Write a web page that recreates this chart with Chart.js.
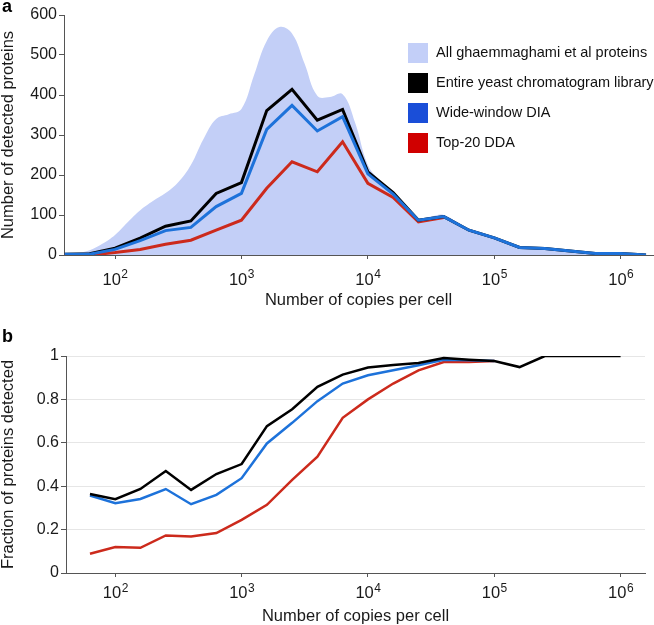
<!DOCTYPE html>
<html>
<head>
<meta charset="utf-8">
<script src="https://cdn.jsdelivr.net/npm/chart.js@4.4.0/dist/chart.umd.min.js"></script>
<style>
  body { margin: 0; background: #fff; font-family: "Liberation Sans", Arial, sans-serif; }
  #wrap { position: relative; width: 654px; height: 625px; overflow: hidden; }
  canvas { position: absolute; left: 0; }
  #chartA { top: 0; }
  #chartB { top: 310px; }
  .panel { position: absolute; left: 2px; font-weight: bold; font-size: 18px; color: #000; }
  #legend { position: absolute; left: 408px; top: 43px; font-size: 14.5px; color: #111; white-space: nowrap; }
  .item { height: 30px; position: relative; }
  .item span.box { position: absolute; left: 0; top: 0; width: 20px; height: 20px; }
  .item span.txt { position: absolute; left: 28px; top: 1px; }
</style>
</head>
<body>
<div id="wrap">
  <canvas id="chartA" width="654" height="310"></canvas>
  <canvas id="chartB" width="654" height="315"></canvas>
  <div class="panel" style="top:-4px">a</div>
  <div class="panel" style="top:326px">b</div>
  <div id="legend"></div>
</div>
<script>
// x tick labels (powers of ten, drawn as 10 + raised exponent)
var xTickValues = [100, 1000, 10000, 100000, 1000000];
var xTickBase = "10";
var xTickExponents = ["2", "3", "4", "5", "6"];

// Panel a: counts per abundance bin
var copiesA = [40, 63, 100, 158, 251, 398, 631, 1000, 1585, 2512, 3981, 6310, 10000, 15849, 25119, 39811, 63096, 100000, 158489, 251189, 398107, 630957, 1000000, 1584893];
var libraryA = [2, 3, 17, 42, 72, 85, 154, 181, 361, 414, 337, 364, 208, 156, 87, 96, 62, 43, 19, 16, 10, 4, 4, 0];
var wideA = [2, 2, 14, 36, 61, 69, 121, 154, 314, 374, 310, 346, 203, 152, 87, 96, 62, 43, 19, 16, 10, 4, 4, 0];
var ddaA = [0, 0, 6, 14, 27, 37, 62, 87, 167, 233, 208, 283, 179, 144, 83, 94];

// smoothed distribution of all ghaemmaghami proteins
var areaCopies = [39.8, 50.1, 63.1, 79.4, 100, 125.9, 158.5, 199.5, 251.2, 316.2, 398.1, 501.2, 631, 794.3, 1000, 1259, 1585, 1995, 2512, 3162, 3981, 5012, 6310, 7943, 10000, 12589, 15849, 19953, 25119, 31623, 39811, 63096, 100000, 158489, 251189, 398107, 630957, 1000000, 1584893];
var allProteins = [2, 5, 12, 28, 50, 82, 112, 135, 155, 182, 225, 290, 340, 352, 365, 450, 535, 570, 554, 478, 398, 395, 402, 330, 225, 185, 160, 120, 92, 96, 100, 64, 45, 20, 17, 11, 5, 5, 1];

// Panel b: fraction detected
var copiesB = [63, 100, 158, 251, 398, 631, 1000, 1585, 2512, 3981, 6310, 10000, 15849, 25119, 39811, 63096, 100000, 158489, 251189, 398107, 630957, 1000000];
var libraryB = [0.364, 0.340, 0.387, 0.470, 0.383, 0.456, 0.502, 0.677, 0.755, 0.858, 0.914, 0.947, 0.959, 0.968, 0.991, 0.983, 0.977, 0.949, 1, 1, 1, 1];
var wideB = [0.357, 0.322, 0.341, 0.387, 0.317, 0.360, 0.437, 0.597, 0.692, 0.792, 0.873, 0.911, 0.934, 0.957, 0.983, 0.980, 0.977];
var ddaB = [0.089, 0.120, 0.116, 0.173, 0.168, 0.184, 0.245, 0.314, 0.429, 0.536, 0.715, 0.800, 0.873, 0.934, 0.972, 0.972, 0.977];

var legendLabels = ["All ghaemmaghami et al proteins", "Entire yeast chromatogram library", "Wide-window DIA", "Top-20 DDA"];
var legendColors = ["#c3cff8", "#000000", "#1a4ed8", "#d00000"];

var fillColor = "#c3cff7";
var blackLine = "#000000";
var blueLine = "#1d72da";
var redLine = "#cc2a1c";
var axisColor = "#555";
var textColor = "#1a1a1a";
var fontFamily = '"Liberation Sans", Arial, sans-serif';

function pairs(xs, ys) {
    return ys.map(function (y, i) { return { x: xs[i], y: y }; });
}

function powerTicks(axis) {
    axis.ticks = xTickValues.map(function (v) { return { value: v }; });
}

// draws 10^n labels under the x axis at the scale's own tick positions
var powerLabels = {
    id: "powerLabels",
    afterDraw: function (chart, args, opts) {
        var sc = chart.scales.x, ctx = chart.ctx;
        ctx.save();
        ctx.fillStyle = textColor;
        ctx.textAlign = "left";
        ctx.textBaseline = "alphabetic";
        xTickValues.forEach(function (v, i) {
            var px = sc.getPixelForValue(v);
            ctx.font = "16.5px " + fontFamily;
            var w1 = ctx.measureText(xTickBase).width;
            ctx.font = "12px " + fontFamily;
            var w2 = ctx.measureText(xTickExponents[i]).width;
            var x0 = px - (w1 + w2) / 2;
            ctx.font = "16.5px " + fontFamily;
            ctx.fillText(xTickBase, x0, sc.top + opts.base);
            ctx.font = "12px " + fontFamily;
            ctx.fillText(xTickExponents[i], x0 + w1 + 0.5, sc.top + opts.sup);
        });
        ctx.restore();
    }
};

// legend
var legendBox = document.getElementById("legend");
legendLabels.forEach(function (lab, i) {
    var d = document.createElement("div");
    d.className = "item";
    d.innerHTML = '<span class="box" style="background:' + legendColors[i] + '"></span><span class="txt"></span>';
    d.querySelector(".txt").textContent = lab;
    legendBox.appendChild(d);
});

new Chart("chartA", {
    type: "line",
    plugins: [powerLabels],
    data: {
        datasets: [
            { label: legendLabels[0], data: pairs(areaCopies, allProteins), fill: "origin", backgroundColor: fillColor, borderWidth: 0, pointRadius: 0, tension: 0.4, order: 3 },
            { label: legendLabels[1], data: pairs(copiesA, libraryA), borderColor: blackLine, borderWidth: 3, pointRadius: 0, fill: false, order: 1 },
            { label: legendLabels[2], data: pairs(copiesA, wideA), borderColor: blueLine, borderWidth: 3, pointRadius: 0, fill: false, order: 0 },
            { label: legendLabels[3], data: pairs(copiesA, ddaA), borderColor: redLine, borderWidth: 3, pointRadius: 0, fill: false, order: 2 }
        ]
    },
    options: {
        responsive: false,
        animation: false,
        layout: { padding: { top: 15, right: 1, left: 0, bottom: 0 } },
        plugins: { legend: { display: false }, tooltip: { enabled: false }, powerLabels: { base: 30, sup: 23 } },
        scales: {
            x: {
                type: "logarithmic",
                min: 39.5,
                max: 1.8e6,
                afterBuildTicks: powerTicks,
                afterFit: function (s) { s.height = 55; },
                ticks: { callback: function () { return ""; }, maxRotation: 0, autoSkip: false },
                grid: { drawOnChartArea: false, tickLength: 4, color: axisColor },
                border: { color: axisColor, width: 1 },
                title: { display: true, text: "Number of copies per cell", color: textColor, padding: 1, font: { family: fontFamily, size: 16.5, lineHeight: 1 } }
            },
            y: {
                min: 0,
                max: 600,
                afterFit: function (s) { s.width = 64; },
                ticks: { stepSize: 50, padding: 2, color: textColor, font: { family: fontFamily, size: 16 },
                    callback: function (v) { return v % 100 === 0 ? String(v) : ""; } },
                grid: { drawOnChartArea: false, tickLength: 5, color: axisColor },
                border: { color: axisColor, width: 1 },
                title: { display: true, text: "Number of detected proteins", color: textColor, padding: 0, font: { family: fontFamily, size: 16.5, lineHeight: 1 } }
            }
        }
    }
});

new Chart("chartB", {
    type: "line",
    plugins: [powerLabels],
    data: {
        datasets: [
            { label: legendLabels[1], data: pairs(copiesB, libraryB), borderColor: blackLine, borderWidth: 2.5, pointRadius: 0, fill: false, order: 0 },
            { label: legendLabels[2], data: pairs(copiesB, wideB), borderColor: blueLine, borderWidth: 2.5, pointRadius: 0, fill: false, order: 1 },
            { label: legendLabels[3], data: pairs(copiesB, ddaB), borderColor: redLine, borderWidth: 2.5, pointRadius: 0, fill: false, order: 2 }
        ]
    },
    options: {
        responsive: false,
        animation: false,
        layout: { padding: { top: 46, right: 9, left: 0, bottom: 0 } },
        plugins: { legend: { display: false }, tooltip: { enabled: false }, powerLabels: { base: 25, sup: 19 } },
        scales: {
            x: {
                type: "logarithmic",
                min: 40.7,
                max: 1.56e6,
                afterBuildTicks: powerTicks,
                afterFit: function (s) { s.height = 52; },
                ticks: { callback: function () { return ""; }, maxRotation: 0, autoSkip: false },
                grid: { drawOnChartArea: false, tickLength: 4, color: axisColor },
                border: { color: axisColor, width: 1 },
                title: { display: true, text: "Number of copies per cell", color: textColor, padding: 0, font: { family: fontFamily, size: 16.5, lineHeight: 1 } }
            },
            y: {
                min: 0,
                max: 1,
                afterFit: function (s) { s.width = 66; },
                ticks: { stepSize: 0.1, padding: 2, color: textColor, font: { family: fontFamily, size: 16 },
                    callback: function (v) {
                        var t = Math.round(v * 10);
                        return t % 2 === 0 ? String(t / 10) : "";
                    } },
                grid: { drawOnChartArea: true, tickLength: 5, color: "#e6e6e6", tickColor: axisColor },
                border: { color: axisColor, width: 1 },
                title: { display: true, text: "Fraction of proteins detected", color: textColor, padding: 0, font: { family: fontFamily, size: 16.5, lineHeight: 1 } }
            }
        }
    }
});
</script>
</body>
</html>
